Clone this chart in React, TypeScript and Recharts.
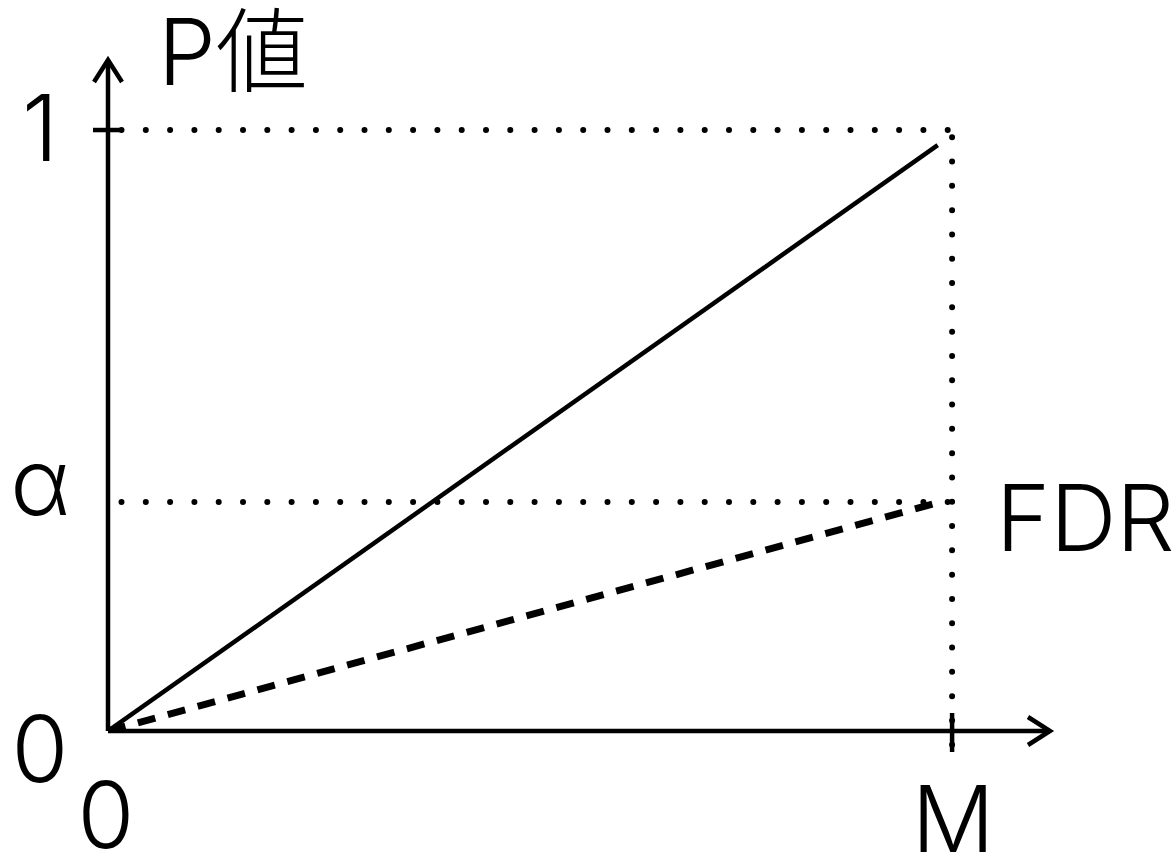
import React from "react";
import {
  Customized,
  Line,
  LineChart,
  ReferenceLine,
  XAxis,
  YAxis,
} from "recharts";

// P値 vs rank: solid = sorted P-values, dashed = FDR threshold line
const ALPHA = 0.381;
const X_TICKS = [0, 1];
const X_TICK_LABELS = ["0", "M"];
const Y_TICKS = [0, ALPHA, 1];
const Y_TICK_LABELS = ["0", "α", "1"];

const P_LINE = [
  { x: 0, y: 0 },
  { x: 0.983, y: 0.975 },
];
const FDR_LINE = [
  { x: 0, y: 0 },
  { x: 0.986, y: ALPHA },
];

const FONT = "Inter, 'Helvetica Neue', 'Noto Sans CJK JP', sans-serif";
const FS = 92;
const INK = "#000";

const YTick = (props: any) => {
  const { y, index } = props;
  const label = Y_TICK_LABELS[index];
  const dy = [51, 13, 31][index];
  return (
    <g>
      {index === 2 && <line x1={93} x2={122} y1={y} y2={y} stroke={INK} strokeWidth={4.5} />}
      <text x={40} y={y + dy} textAnchor="middle" fontSize={FS} fontFamily={FONT} fontWeight={300} fill={INK}>
        {label}
      </text>
    </g>
  );
};

const XTick = (props: any) => {
  const { x, index } = props;
  const label = X_TICK_LABELS[index];
  const dy = [117, 121][index];
  const cx = index === 0 ? x - 2 : x + 1;
  return (
    <g>
      {index === 1 && <line x1={x} x2={x} y1={713} y2={752} stroke={INK} strokeWidth={4.5} />}
      <text x={cx} y={731 + dy} textAnchor="middle" fontSize={FS} fontFamily={FONT} fontWeight={300} fill={INK}>
        {label}
      </text>
    </g>
  );
};

const Titles = () => (
  <g fontFamily={FONT} fontSize={FS} fontWeight={300} fill={INK}>
    <text x={158} y={85}>P値</text>
    <text x={996} y={551}>FDR</text>
  </g>
);

const dotted = {
  stroke: INK,
  strokeWidth: 6,
  strokeDasharray: "0 24.3",
  strokeLinecap: "round" as const,
  ifOverflow: "visible" as const,
};

export default function App() {
  return (
    <div style={{ position: "absolute", left: 0, top: 0, background: "#fff" }}>
      <LineChart width={1176} height={860} margin={{ top: 60, right: 126, bottom: 0, left: 0 }}>
        <defs>
          <marker
            id="arrowHead"
            viewBox="-30 -20 40 40"
            markerWidth={40}
            markerHeight={40}
            refX={0}
            refY={0}
            markerUnits="userSpaceOnUse"
            orient="auto-start-reverse"
          >
            <path d="M -22 -14 L 0 0 L -22 14" fill="none" stroke={INK} strokeWidth={4.5} />
          </marker>
        </defs>
        <XAxis
          type="number"
          dataKey="x"
          domain={[0, 1.116]}
          allowDataOverflow
          ticks={X_TICKS}
          interval={0}
          height={129}
          tickLine={false}
          tick={<XTick />}
          axisLine={{ stroke: INK, strokeWidth: 4.5, markerEnd: "url(#arrowHead)" } as any}
        />
        <YAxis
          type="number"
          dataKey="y"
          domain={[0, 1.1165]}
          allowDataOverflow
          ticks={Y_TICKS}
          interval={0}
          width={108}
          tickLine={false}
          tick={<YTick />}
          axisLine={{ stroke: INK, strokeWidth: 4.5, markerStart: "url(#arrowHead)" } as any}
        />
        <ReferenceLine segment={[{ x: 0.016, y: 1 }, { x: 1.012, y: 1 }]} {...dotted} />
        <ReferenceLine segment={[{ x: 0.016, y: ALPHA }, { x: 1.012, y: ALPHA }]} {...dotted} />
        <ReferenceLine segment={[{ x: 1, y: 0.988 }, { x: 1, y: -0.052 }]} {...dotted} />
        <Line
          data={P_LINE}
          dataKey="y"
          type="linear"
          stroke={INK}
          strokeWidth={4.5}
          dot={false}
          activeDot={false}
          isAnimationActive={false}
        />
        <Line
          data={FDR_LINE}
          dataKey="y"
          type="linear"
          stroke={INK}
          strokeWidth={7}
          strokeDasharray="18 13"
          dot={false}
          activeDot={false}
          isAnimationActive={false}
        />
        <Customized component={Titles} />
      </LineChart>
    </div>
  );
}
